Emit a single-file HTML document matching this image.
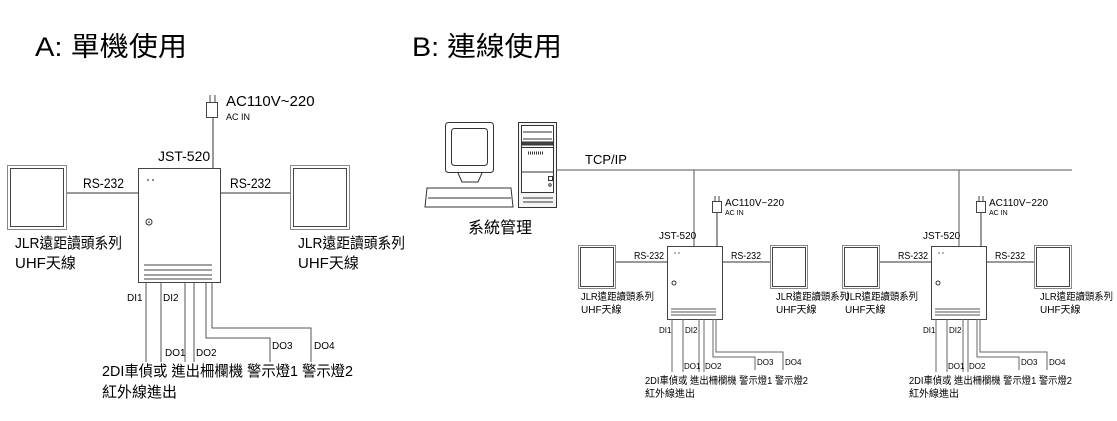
<!DOCTYPE html>
<html><head><meta charset="utf-8"><style>
html,body{margin:0;padding:0;background:#fff;width:1117px;height:421px;overflow:hidden}
text{font-family:"Liberation Sans","Noto Sans CJK TC",sans-serif;fill:#000}
</style></head><body>
<svg width="1117" height="421" viewBox="0 0 1117 421" xmlns="http://www.w3.org/2000/svg">
<defs>
<g id="ant">
  <rect x="0.5" y="0.5" width="59" height="64" fill="#fff" stroke="#888"/>
  <rect x="3.5" y="3.5" width="53" height="58" fill="#fff" stroke="#444"/>
</g>
<g id="antS">
  <rect x="0.5" y="0.5" width="37" height="43" fill="#fff" stroke="#888"/>
  <rect x="2.5" y="2.5" width="33" height="39" fill="#fff" stroke="#444"/>
</g>
</defs>
<g stroke="#000" fill="none">
<text x="35" y="56" font-size="27" textLength="152" lengthAdjust="spacingAndGlyphs" stroke="none">A: 單機使用</text>
<text x="412" y="56" font-size="27" textLength="150" lengthAdjust="spacingAndGlyphs" stroke="none">B: 連線使用</text>

<!-- Panel A -->
<use href="#ant" x="7" y="165"/>
<use href="#ant" x="290" y="165"/>
<line x1="67" y1="193" x2="138" y2="193" stroke="#333"/>
<line x1="220" y1="193" x2="290" y2="193" stroke="#333"/>
<text x="83" y="188" font-size="14" textLength="41" lengthAdjust="spacingAndGlyphs" stroke="none">RS-232</text>
<text x="230" y="188" font-size="14" textLength="41" lengthAdjust="spacingAndGlyphs" stroke="none">RS-232</text>
<rect x="138.5" y="168.5" width="82" height="114" stroke="#444"/>
<circle cx="148" cy="180" r="0.8" fill="#000" stroke="none"/><circle cx="153" cy="180" r="0.8" fill="#000" stroke="none"/>
<circle cx="149" cy="222" r="3" stroke="#333"/><circle cx="149" cy="222" r="0.8" fill="#000" stroke="none"/>
<g stroke="#444"><line x1="144" y1="265" x2="212" y2="265"/><line x1="144" y1="270" x2="212" y2="270"/><line x1="144" y1="275" x2="212" y2="275"/><line x1="144" y1="279" x2="212" y2="279"/></g>
<line x1="213" y1="117" x2="213" y2="169" stroke="#333"/>
<rect x="206.5" y="102.5" width="11" height="15" stroke="#444"/>
<line x1="210" y1="95" x2="210" y2="102" stroke="#444"/><line x1="215" y1="95" x2="215" y2="102" stroke="#444"/>
<text x="226" y="106" font-size="15" stroke="none">AC110V~220</text>
<text x="226" y="120" font-size="9" stroke="none">AC IN</text>
<text x="158" y="161" font-size="14" stroke="none">JST-520</text>
<text x="15" y="248" font-size="15" textLength="107" lengthAdjust="spacingAndGlyphs" stroke="none">JLR遠距讀頭系列</text>
<text x="15" y="268" font-size="15" stroke="none">UHF天線</text>
<text x="298" y="248" font-size="15" textLength="107" lengthAdjust="spacingAndGlyphs" stroke="none">JLR遠距讀頭系列</text>
<text x="298" y="268" font-size="15" stroke="none">UHF天線</text>
<g stroke="#555">
<line x1="146" y1="282" x2="146" y2="362"/><line x1="161" y1="282" x2="161" y2="362"/>
<line x1="185" y1="282" x2="185" y2="362"/><line x1="194" y1="282" x2="194" y2="362"/>
<polyline points="206,282 206,338 270,338 270,362"/>
<polyline points="212,282 212,328 311,328 311,362"/>
</g>
<text x="127" y="301" font-size="10" stroke="none">DI1</text>
<text x="163" y="301" font-size="10" stroke="none">DI2</text>
<text x="165" y="356" font-size="10" stroke="none">DO1</text>
<text x="196" y="356" font-size="10" stroke="none">DO2</text>
<text x="272" y="349" font-size="10" stroke="none">DO3</text>
<text x="314" y="349" font-size="10" stroke="none">DO4</text>
<text x="102" y="376" font-size="15" textLength="251" lengthAdjust="spacingAndGlyphs" stroke="none">2DI車偵或 進出柵欄機 警示燈1 警示燈2</text>
<text x="102" y="397" font-size="15" stroke="none">紅外線進出</text>

<!-- Panel B computer -->
<g stroke="#333">
<rect x="445.5" y="122.5" width="48" height="50" rx="3"/>
<rect x="451.5" y="128.5" width="36" height="37" rx="3"/>
<polyline points="458,173 462,182 478,182 482,173"/>
<polygon points="427,188 511,188 513,207 425,207"/>
<line x1="428" y1="198" x2="511" y2="198"/>
<rect x="518.5" y="122.5" width="38" height="85" fill="#f4f4f4"/>
<rect x="521.5" y="125.5" width="32" height="22" fill="#fff"/>
<line x1="523" y1="132" x2="552" y2="132"/><line x1="523" y1="139" x2="552" y2="139"/>
<rect x="522" y="142" width="31" height="3" fill="#444"/>
<rect x="521.5" y="147.5" width="32" height="45" fill="#fff"/>
<line x1="528" y1="153" x2="544" y2="153" stroke-width="3" stroke-dasharray="1 1"/>
<line x1="521" y1="172" x2="553" y2="172"/>
<rect x="548.5" y="176.5" width="4" height="4"/>
<circle cx="550" cy="185" r="1.2"/>
<line x1="523" y1="198" x2="553" y2="198"/><line x1="523" y1="202" x2="553" y2="202"/>
</g>
<text x="468" y="233" font-size="16" stroke="none">系統管理</text>
<line x1="556" y1="170" x2="1072" y2="170" stroke="#555"/>
<text x="585" y="164" font-size="13" stroke="none">TCP/IP</text>
<line x1="694" y1="170" x2="694" y2="247" stroke="#555"/>
<line x1="959" y1="170" x2="959" y2="246" stroke="#555"/>

<g id="unitB">
<use href="#antS" x="578" y="245"/>
<use href="#antS" x="770" y="245"/>
<line x1="616" y1="262" x2="667" y2="262" stroke="#333"/>
<line x1="722" y1="262" x2="770" y2="262" stroke="#333"/>
<text x="634" y="259" font-size="10" textLength="30" lengthAdjust="spacingAndGlyphs" stroke="none">RS-232</text>
<text x="731" y="259" font-size="10" textLength="30" lengthAdjust="spacingAndGlyphs" stroke="none">RS-232</text>
<rect x="667.5" y="246.5" width="55" height="73" stroke="#444"/>
<circle cx="675" cy="253" r="0.6" fill="#000" stroke="none"/><circle cx="679" cy="253" r="0.6" fill="#000" stroke="none"/>
<circle cx="674" cy="283" r="2" stroke="#333"/>
<g stroke="#555"><line x1="671" y1="309" x2="716" y2="309"/><line x1="671" y1="312" x2="716" y2="312"/><line x1="671" y1="315" x2="716" y2="315"/></g>
<line x1="717" y1="212" x2="717" y2="246" stroke="#333"/>
<rect x="712.5" y="201.5" width="9" height="11" stroke="#444"/>
<line x1="715" y1="196" x2="715" y2="201" stroke="#444"/><line x1="719" y1="196" x2="719" y2="201" stroke="#444"/>
<text x="725" y="206" font-size="10" stroke="none">AC110V~220</text>
<text x="725" y="215" font-size="7" stroke="none">AC IN</text>
<text x="659" y="239" font-size="10" stroke="none">JST-520</text>
<text x="581" y="300" font-size="10" textLength="73" lengthAdjust="spacingAndGlyphs" stroke="none">JLR遠距讀頭系列</text>
<text x="581" y="313" font-size="10" stroke="none">UHF天線</text>
<text x="776" y="300" font-size="10" textLength="73" lengthAdjust="spacingAndGlyphs" stroke="none">JLR遠距讀頭系列</text>
<text x="776" y="313" font-size="10" stroke="none">UHF天線</text>
<g stroke="#666">
<line x1="672" y1="319" x2="672" y2="372"/><line x1="683" y1="319" x2="683" y2="372"/>
<line x1="699" y1="319" x2="699" y2="372"/><line x1="704" y1="319" x2="704" y2="372"/>
<polyline points="713,319 713,357 755,357 755,370"/>
<polyline points="716,319 716,352 783,352 783,370"/>
</g>
<text x="659" y="333" font-size="8" stroke="none">DI1</text>
<text x="685" y="333" font-size="8" stroke="none">DI2</text>
<text x="684" y="369" font-size="8" stroke="none">DO1</text>
<text x="705" y="369" font-size="8" stroke="none">DO2</text>
<text x="757" y="365" font-size="8" stroke="none">DO3</text>
<text x="785" y="365" font-size="8" stroke="none">DO4</text>
<text x="645" y="384" font-size="10" textLength="163" lengthAdjust="spacingAndGlyphs" stroke="none">2DI車偵或 進出柵欄機 警示燈1 警示燈2</text>
<text x="645" y="397" font-size="10" stroke="none">紅外線進出</text>
</g>
<use href="#unitB" x="264" y="0"/>
</g>
</svg>
</body></html>
